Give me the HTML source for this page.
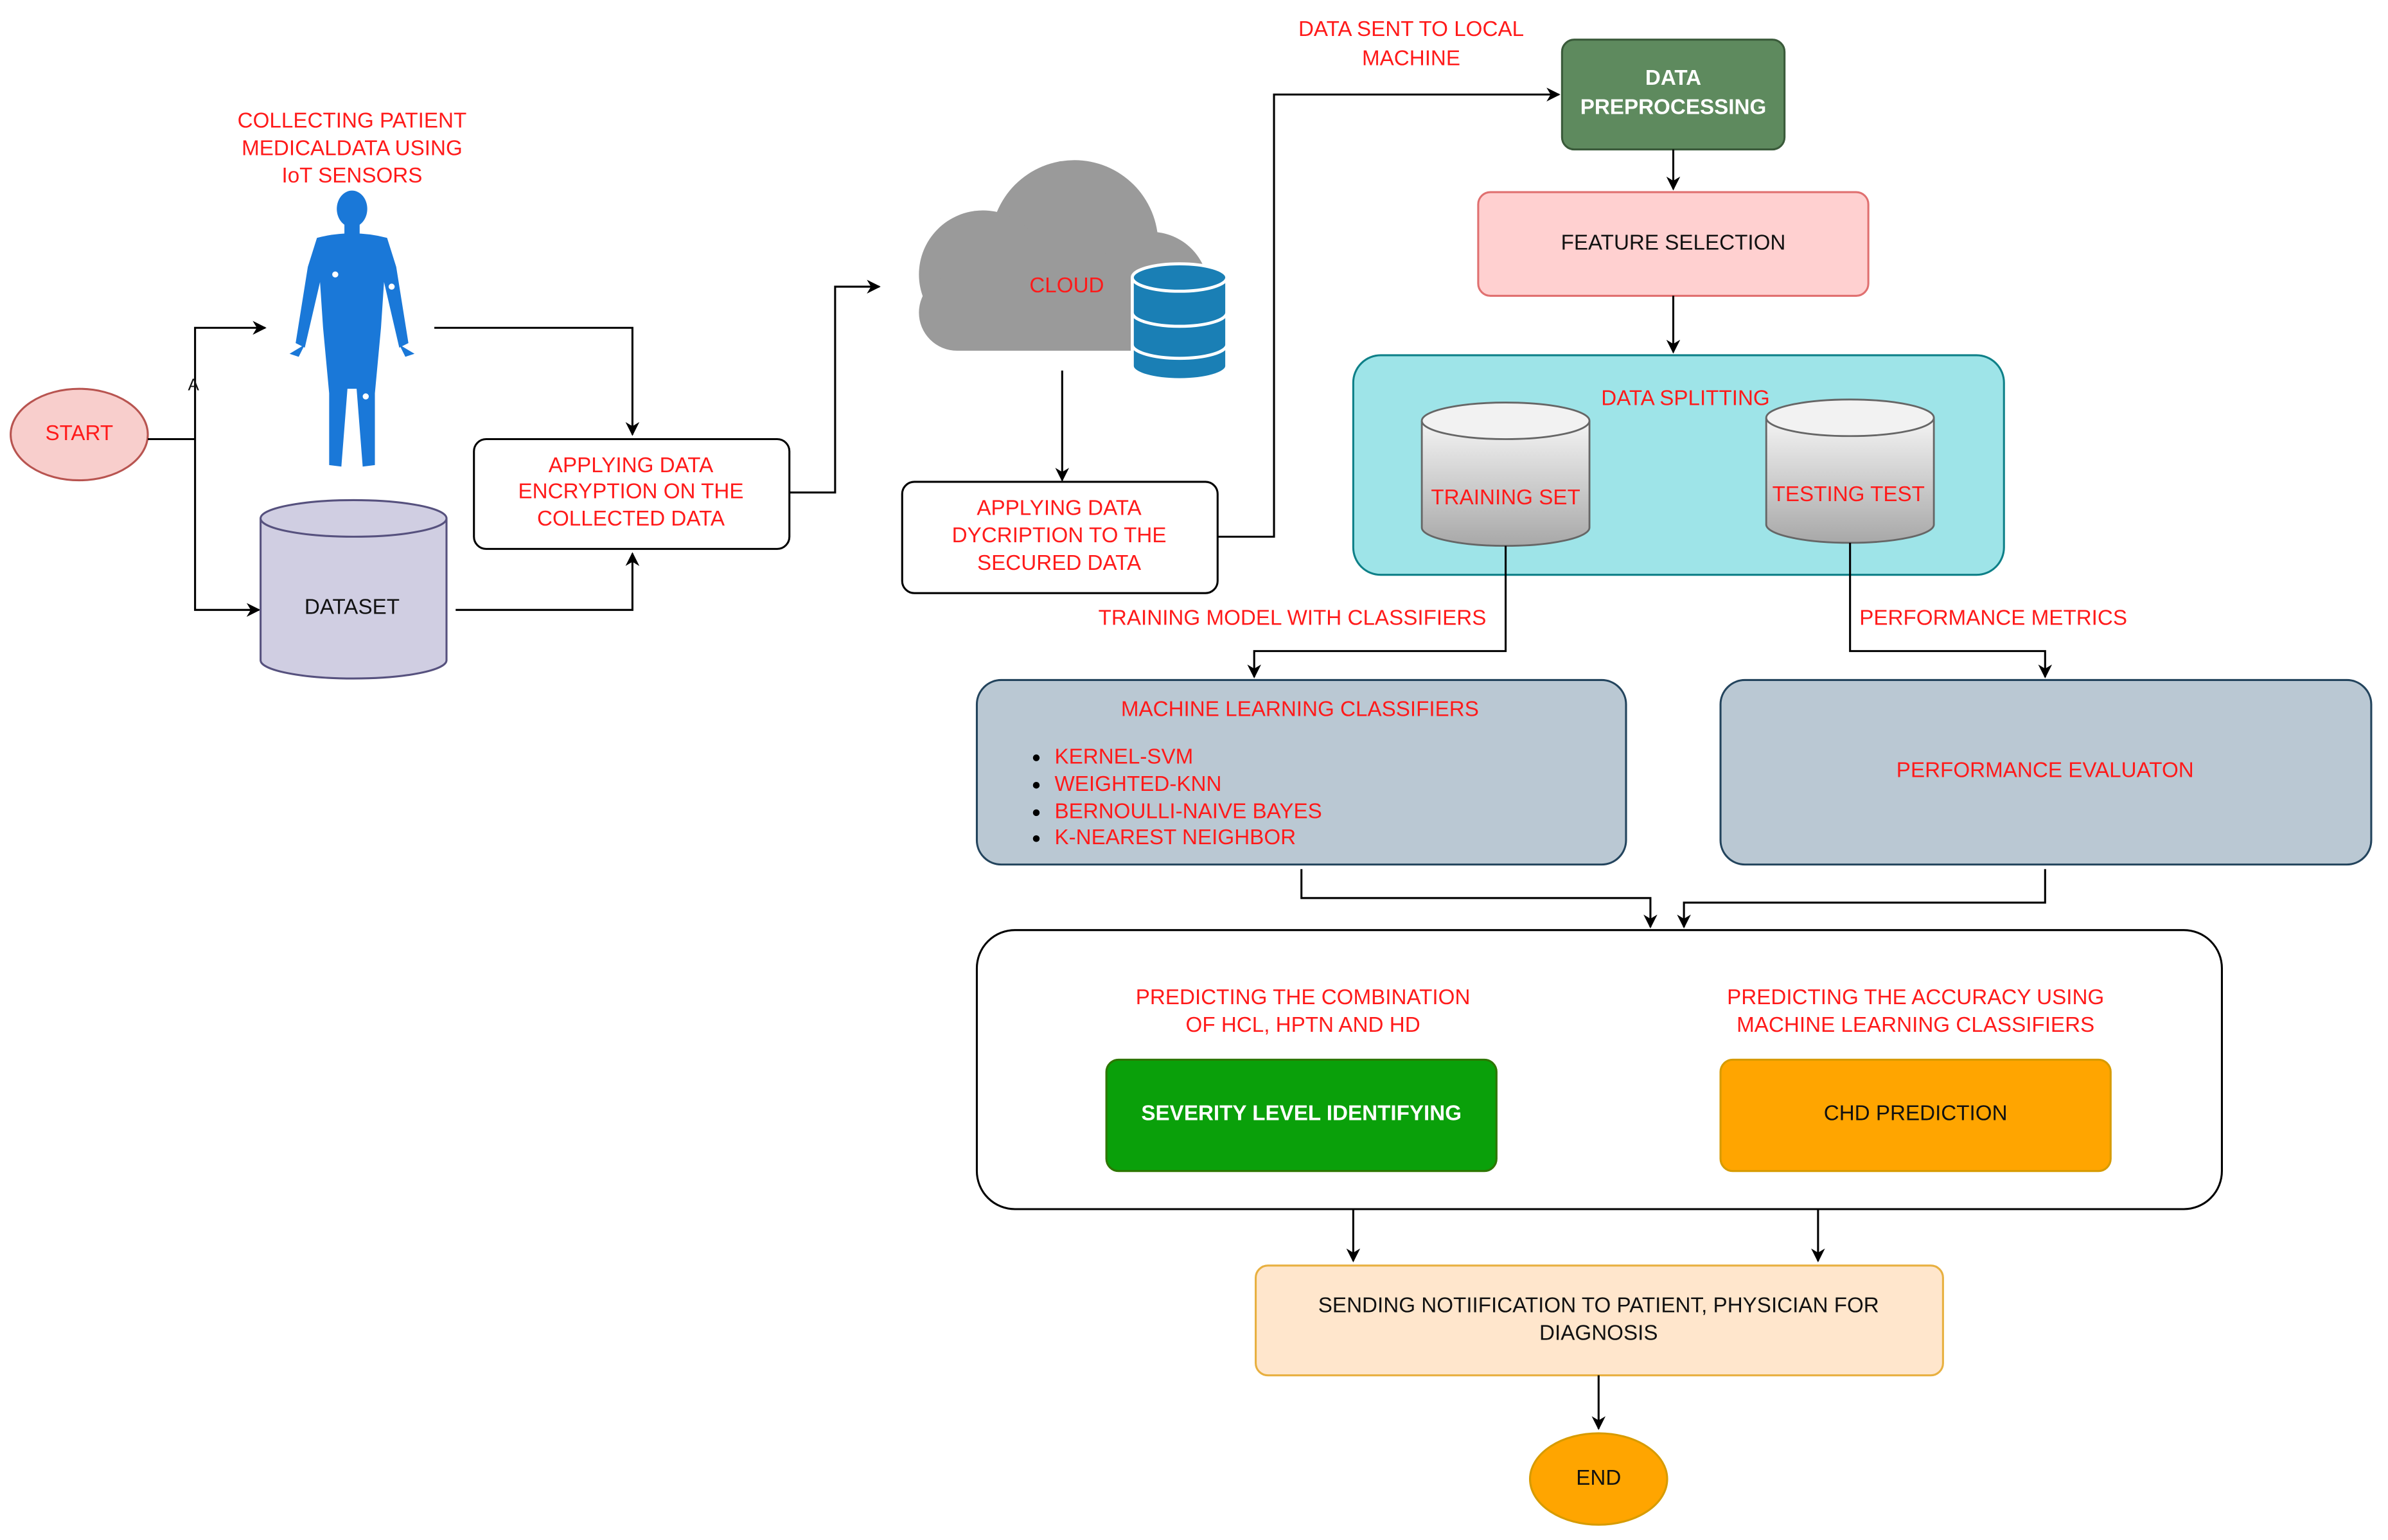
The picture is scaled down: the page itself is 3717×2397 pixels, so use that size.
<!DOCTYPE html>
<html><head><meta charset="utf-8"><style>
html,body{margin:0;padding:0;background:#fff;}
svg{display:block;}
text{font-family:"Liberation Sans",sans-serif;font-size:14px;text-anchor:middle;dominant-baseline:middle;}
.r{fill:#ff1a1a;}
.k{fill:#111;}
.w{fill:#fff;font-weight:bold;}
.l{fill:none;stroke:#000;stroke-width:1.3;}
</style></head><body>
<svg width="3717" height="2397" viewBox="0 0 1567 1010" preserveAspectRatio="none" xmlns="http://www.w3.org/2000/svg">
<defs>
<marker id="a" viewBox="0 0 10 10" refX="9" refY="5" markerWidth="7" markerHeight="7" orient="auto"><path d="M0,0 L10,5 L0,10 L3,5 z" fill="#000"/></marker>
<linearGradient id="g" x1="0" y1="0" x2="0" y2="1"><stop offset="0" stop-color="#f4f4f4"/><stop offset="1" stop-color="#a8a8a8"/></linearGradient>
</defs>
<rect width="1567" height="1010" fill="#fff"/>

<ellipse cx="52" cy="285" rx="45" ry="30" fill="#f8cecc" stroke="#b85450" stroke-width="1.3"/>
<text x="52" y="285" class="r">START</text>
<path class="l" d="M97,288 H128"/>
<path class="l" d="M128,288 V215 H174" marker-end="url(#a)"/>
<path class="l" d="M128,288 V400 H170" marker-end="url(#a)"/>
<text x="127" y="253" class="k" style="font-size:11px">A</text>

<text x="231" y="80" class="r">COLLECTING PATIENT</text>
<text x="231" y="98" class="r">MEDICALDATA USING</text>
<text x="231" y="116" class="r">IoT SENSORS</text>
<g fill="#1a78d8">
<ellipse cx="231" cy="137" rx="10" ry="12"/>
<rect x="226" y="146" width="10" height="8"/>
<path d="M208,156 Q231,150 254,156 L260,175 L268,225 L262,228 L252,185 L250,215 L246,258 L246,305 L238,306 L234,255 L228,255 L224,306 L216,305 L216,258 L212,215 L210,185 L200,228 L194,225 L202,175 Z"/>
<path d="M200,226 L190,232 L196,234 Z M262,226 L272,232 L266,234 Z"/>
</g>
<g fill="#fff"><circle cx="220" cy="180" r="2"/><circle cx="257" cy="188" r="2"/><circle cx="240" cy="260" r="2"/></g>

<path d="M171,340 V433 A61,12 0 0 0 293,433 V340" fill="#d0cee2" stroke="#56517e" stroke-width="1.3"/>
<ellipse cx="232" cy="340" rx="61" ry="12" fill="#d0cee2" stroke="#56517e" stroke-width="1.3"/>
<text x="231" y="399" class="k">DATASET</text>

<rect x="311" y="288" width="207" height="72" rx="8" fill="#fff" stroke="#000" stroke-width="1.3"/>
<text x="414" y="306" class="r">APPLYING DATA</text>
<text x="414" y="323" class="r">ENCRYPTION ON THE</text>
<text x="414" y="341" class="r">COLLECTED DATA</text>
<path class="l" d="M285,215 H415 V285" marker-end="url(#a)"/>
<path class="l" d="M299,400 H415 V363" marker-end="url(#a)"/>
<path class="l" d="M518,323 H548 V188 H577" marker-end="url(#a)"/>

<g fill="#9a9a9a">
<circle cx="705" cy="160" r="55"/>
<circle cx="645" cy="180" r="42"/>
<circle cx="755" cy="190" r="38"/>
<rect x="603" y="180" width="175" height="50" rx="25"/>
</g>
<text x="700" y="188" class="r">CLOUD</text>
<g fill="#1a7fb5" stroke="#fff" stroke-width="2">
<path d="M743,226 V240 A31,9 0 0 0 805,240 V226"/>
<path d="M743,205 V226 A31,9 0 0 0 805,226 V205"/>
<path d="M743,182 V205 A31,9 0 0 0 805,205 V182"/>
<ellipse cx="774" cy="182" rx="31" ry="9"/>
</g>
<path class="l" d="M697,243 V315" marker-end="url(#a)"/>

<rect x="592" y="316" width="207" height="73" rx="8" fill="#fff" stroke="#000" stroke-width="1.3"/>
<text x="695" y="334" class="r">APPLYING DATA</text>
<text x="695" y="352" class="r">DYCRIPTION TO THE</text>
<text x="695" y="370" class="r">SECURED DATA</text>
<path class="l" d="M799,352 H836 V62 H1023" marker-end="url(#a)"/>
<text x="926" y="20" class="r">DATA SENT TO LOCAL</text>
<text x="926" y="39" class="r">MACHINE</text>

<rect x="1025" y="26" width="146" height="72" rx="8" fill="#5e8a5e" stroke="#3a5a3a" stroke-width="1.3"/>
<text x="1098" y="52" class="w">DATA</text>
<text x="1098" y="71" class="w">PREPROCESSING</text>
<path class="l" d="M1098,98 V124" marker-end="url(#a)"/>

<rect x="970" y="126" width="256" height="68" rx="8" fill="#ffd0d0" stroke="#e07070" stroke-width="1.3"/>
<text x="1098" y="160" class="k">FEATURE SELECTION</text>
<path class="l" d="M1098,194 V231" marker-end="url(#a)"/>

<rect x="888" y="233" width="427" height="144" rx="18" fill="#9ee4e8" stroke="#0e8088" stroke-width="1.3"/>
<text x="1106" y="262" class="r">DATA SPLITTING</text>
<path d="M933,276 V346 A55,12 0 0 0 1043,346 V276" fill="url(#g)" stroke="#666" stroke-width="1.2"/>
<ellipse cx="988" cy="276" rx="55" ry="12" fill="#f2f2f2" stroke="#666" stroke-width="1.2"/>
<text x="988" y="327" class="r">TRAINING SET</text>
<path d="M1159,274 V344 A55,12 0 0 0 1269,344 V274" fill="url(#g)" stroke="#666" stroke-width="1.2"/>
<ellipse cx="1214" cy="274" rx="55" ry="12" fill="#f2f2f2" stroke="#666" stroke-width="1.2"/>
<text x="1213" y="325" class="r">TESTING TEST</text>

<path class="l" d="M988,358 V427 H823 V444" marker-end="url(#a)"/>
<text x="848" y="406" class="r">TRAINING MODEL WITH CLASSIFIERS</text>
<path class="l" d="M1214,356 V427 H1342 V444" marker-end="url(#a)"/>
<text x="1308" y="406" class="r">PERFORMANCE METRICS</text>

<rect x="641" y="446" width="426" height="121" rx="16" fill="#bac8d3" stroke="#23445d" stroke-width="1.3"/>
<text x="853" y="466" class="r">MACHINE LEARNING CLASSIFIERS</text>
<g fill="#000"><circle cx="680" cy="497" r="2.2"/><circle cx="680" cy="515" r="2.2"/><circle cx="680" cy="533" r="2.2"/><circle cx="680" cy="550" r="2.2"/></g>
<text x="692" y="497" class="r" style="text-anchor:start">KERNEL-SVM</text>
<text x="692" y="515" class="r" style="text-anchor:start">WEIGHTED-KNN</text>
<text x="692" y="533" class="r" style="text-anchor:start">BERNOULLI-NAIVE BAYES</text>
<text x="692" y="550" class="r" style="text-anchor:start">K-NEAREST NEIGHBOR</text>
<rect x="1129" y="446" width="427" height="121" rx="16" fill="#bac8d3" stroke="#23445d" stroke-width="1.3"/>
<text x="1342" y="506" class="r">PERFORMANCE EVALUATON</text>

<path class="l" d="M854,570 V589 H1083 V608" marker-end="url(#a)"/>
<path class="l" d="M1342,570 V592 H1105 V608" marker-end="url(#a)"/>

<rect x="641" y="610" width="817" height="183" rx="25" fill="#fff" stroke="#000" stroke-width="1.3"/>
<text x="855" y="655" class="r">PREDICTING THE COMBINATION</text>
<text x="855" y="673" class="r">OF HCL, HPTN AND HD</text>
<text x="1257" y="655" class="r">PREDICTING THE ACCURACY USING</text>
<text x="1257" y="673" class="r">MACHINE LEARNING CLASSIFIERS</text>
<rect x="726" y="695" width="256" height="73" rx="8" fill="#0aa00a" stroke="#2d7600" stroke-width="1.3"/>
<text x="854" y="731" class="w">SEVERITY LEVEL IDENTIFYING</text>
<rect x="1129" y="695" width="256" height="73" rx="8" fill="#ffa500" stroke="#d79b00" stroke-width="1.3"/>
<text x="1257" y="731" class="k">CHD PREDICTION</text>

<path class="l" d="M888,793 V827" marker-end="url(#a)"/>
<path class="l" d="M1193,793 V827" marker-end="url(#a)"/>

<rect x="824" y="830" width="451" height="72" rx="8" fill="#ffe6cc" stroke="#e8b040" stroke-width="1.3"/>
<text x="1049" y="857" class="k">SENDING NOTIIFICATION TO PATIENT, PHYSICIAN FOR</text>
<text x="1049" y="875" class="k">DIAGNOSIS</text>
<path class="l" d="M1049,902 V937" marker-end="url(#a)"/>

<ellipse cx="1049" cy="970" rx="45" ry="30" fill="#ffa500" stroke="#d79b00" stroke-width="1.3"/>
<text x="1049" y="970" class="k">END</text>
</svg>
</body></html>
